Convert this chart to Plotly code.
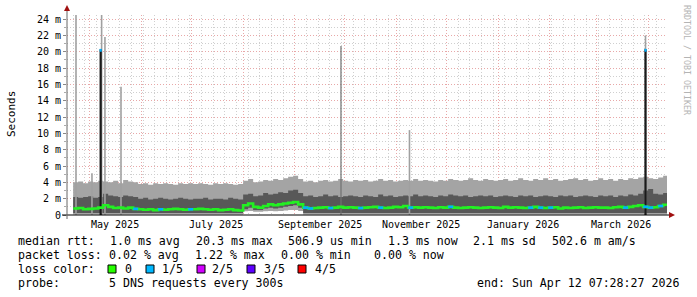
import plotly.graph_objects as go
import pandas as pd

# ---------------- data (values in milliseconds) ----------------
step_days = 3
dates = pd.date_range("2025-04-21", periods=119, freq="3D")

light_hi = [4.0, 4.1, 3.9, 4.1, 4.0, 4.2, 4.1, 4.0, 4.2, 3.9, 4.3, 4.1, 4.0,
            3.8, 3.9, 3.7, 3.9, 3.8, 3.9, 3.8, 3.7, 3.9, 3.8, 3.9, 3.8,
            3.9, 3.8, 3.7, 3.9, 3.8, 3.9, 3.8, 3.7, 3.8,
            4.2, 4.4, 4.0, 4.1, 4.3, 4.2, 4.4, 4.3, 4.5, 4.7, 4.8, 4.4,
            4.1, 4.2, 4.0, 4.2, 4.3, 4.1, 4.2, 4.4, 4.2, 4.1, 4.3, 4.2,
            4.3, 4.1, 4.2, 4.4, 4.2, 4.3, 4.1, 4.2, 4.3, 4.2, 4.4, 4.2,
            4.3, 4.2, 4.1, 4.3, 4.2, 4.4, 4.3, 4.2, 4.3, 4.5, 4.3, 4.2,
            4.4, 4.3, 4.2, 4.3, 4.4, 4.2, 4.3, 4.5, 4.3, 4.2, 4.4, 4.3,
            4.5, 4.3, 4.4, 4.2, 4.3, 4.4, 4.5, 4.3, 4.4, 4.2, 4.3, 4.5,
            4.3, 4.4, 4.2, 4.4, 4.3, 4.5, 4.4, 4.6, 4.7, 4.5, 4.4, 4.6, 4.8]

dark_hi = [2.2, 2.1, 2.2, 2.3, 2.1, 2.2, 2.6, 2.4, 2.3, 2.2, 2.4, 2.3, 2.2,
           2.0, 2.1, 1.9, 2.0, 2.1, 2.0, 1.9, 2.0, 2.1, 2.0, 1.9, 2.0,
           2.0, 2.1, 1.9, 2.0, 2.0, 1.9, 2.1, 2.0, 1.9,
           2.5, 2.6, 2.3, 2.4, 2.7, 2.5, 2.6, 2.8, 2.7, 3.0, 3.1, 2.7,
           2.3, 2.4, 2.2, 2.3, 2.5, 2.3, 2.4, 2.2, 2.3, 2.4, 2.3, 2.2,
           2.4, 2.3, 2.2, 2.5, 2.3, 2.4, 2.2, 2.3, 2.4, 2.3, 2.5, 2.3,
           2.4, 2.3, 2.2, 2.4, 2.3, 2.5, 2.4, 2.3, 2.4, 2.2, 2.3, 2.4,
           2.3, 2.4, 2.2, 2.3, 2.4, 2.3, 2.2, 2.4, 2.3, 2.4, 2.2, 2.3,
           2.4, 2.3, 2.2, 2.4, 2.3, 2.4, 2.2, 2.3, 2.4, 2.3, 2.2, 2.4,
           2.3, 2.4, 2.2, 2.4, 2.3, 2.5, 2.4, 2.6, 3.0, 3.2, 2.6, 2.5, 2.7]

median = [0.8, 0.85, 0.7, 0.75, 0.8, 0.9, 1.2, 1.0, 0.85, 0.9, 0.8, 0.9, 0.75,
          0.7, 0.65, 0.7, 0.6, 0.7, 0.65, 0.7, 0.75, 0.7, 0.65, 0.7, 0.7,
          0.75, 0.7, 0.65, 0.7, 0.6, 0.65, 0.7, 0.6, 0.55,
          1.2, 1.4, 1.0, 0.9, 1.1, 1.3, 1.2, 1.3, 1.4, 1.5, 1.6, 1.3,
          0.9, 0.8, 0.85, 0.9, 0.95, 0.85, 0.9, 1.0, 0.9, 0.95, 0.9, 0.85,
          0.9, 0.95, 1.0, 0.9, 0.85, 0.9, 1.0, 0.95, 1.1, 0.9, 0.95, 0.9,
          0.95, 0.9, 0.85, 0.95, 0.9, 1.0, 0.9, 0.85, 0.9, 0.95, 0.9, 0.85,
          0.9, 0.95, 0.9, 0.85, 1.0, 0.9, 0.95, 0.9, 0.85, 0.9, 1.0, 0.9,
          0.85, 0.9, 0.95, 0.8, 0.9, 0.85, 0.9, 0.95, 0.85, 0.9, 0.95, 0.9,
          0.9, 0.85, 0.95, 1.0, 0.9, 1.0, 1.1, 1.2, 1.0, 0.9, 0.95, 1.1, 1.25]

dark_lo = [0.25] * 34 + [0.7, 0.9, 0.6, 0.6, 0.8, 0.9, 0.8, 0.9, 1.0, 1.1, 1.2, 0.9] + [0.25] * 73
light_lo = [0.05] * 34 + [0.45, 0.5, 0.4, 0.4, 0.45, 0.5, 0.45, 0.5, 0.55, 0.6, 0.6, 0.5] + [0.05] * 73

loss_steps = [12, 17, 23, 46, 47, 51, 57, 61, 67, 75, 91, 93, 95, 110, 114, 115, 117]

spike_dates = ["2025-04-22 17:00", "2025-05-02 07:00", "2025-05-08 02:00", "2025-05-10 02:00",
               "2025-05-19 17:00", "2025-09-28 17:00", "2025-11-08 19:00", "2026-03-30 10:00",
               "2025-05-07 12:00", "2026-03-30 10:00", "2025-05-07 12:00", "2026-03-30 10:00"]
spike_lo = [0, 0, 0, 0, 0, 0, 0, 0, 0, 0, 20.0, 20.0]
spike_hi = [25.0, 5.1, 25.0, 21.8, 15.7, 20.7, 10.4, 22.0, 20.3, 20.3, 20.35, 20.35]
spike_kind = ["light", "light", "light", "light", "light", "mid", "light", "light",
              "black", "black", "loss", "loss"]

y_ticks = [0, 2, 4, 6, 8, 10, 12, 14, 16, 18, 20, 22, 24]
y_labels = ["0"] + [f"{v} m" for v in y_ticks[1:]]
month_labels = ["May 2025", "July 2025", "September 2025", "November 2025", "January 2026", "March 2026"]
month_label_dates = ["2025-05-16", "2025-07-16", "2025-09-16", "2025-11-16", "2026-01-16", "2026-03-16"]

row1 = ["median rtt:", "1.0 ms avg", "20.3 ms max", "506.9 us min", "1.3 ms now", "2.1 ms sd", "502.6 m am/s"]
row2 = ["packet loss:", "0.02 % avg", "1.22 % max", "0.00 % min", "0.00 % now"]
row3_head = "loss color:"
loss_names = ["0", "1/5", "2/5", "3/5", "4/5"]
loss_colors = ["#26ff00", "#00b8ff", "#d100ff", "#5e00ff", "#ff0000"]
row4 = ["probe:", "5 DNS requests every 300s"]
end_text = "end: Sun Apr 12 07:28:27 2026"
credit = "RRDTOOL / TOBI OETIKER"

# ---------------- figure ----------------
t0 = pd.Timestamp("2025-04-17 07:28:27")
t1 = pd.Timestamp("2026-04-12 07:28:27")
step = pd.Timedelta(days=step_days)
xs = list(dates) + [dates[-1] + step]


def ext(v):
    return list(v) + [v[-1]]


LIGHT = "#a4a4a4"
DARK = "#585858"
GREEN = "#22f022"
BLUE = "#00b0ff"

fig = go.Figure()
line0 = dict(width=0, shape="hv")
fig.add_trace(go.Scatter(x=xs, y=ext(light_lo), mode="lines", line=line0, hoverinfo="skip"))
fig.add_trace(go.Scatter(x=xs, y=ext(light_hi), mode="lines", line=line0, fill="tonexty",
                         fillcolor=LIGHT, hoverinfo="skip"))
fig.add_trace(go.Scatter(x=xs, y=ext(dark_lo), mode="lines", line=line0, hoverinfo="skip"))
fig.add_trace(go.Scatter(x=xs, y=ext(dark_hi), mode="lines", line=line0, fill="tonexty",
                         fillcolor=DARK, hoverinfo="skip"))

spike_style = {"light": ("#a0a0a0", 1.6), "mid": ("#707070", 1.2),
               "black": ("#1a1a1a", 2.2), "loss": (BLUE, 2.2)}
for d, lo, hi, k in zip(spike_dates, spike_lo, spike_hi, spike_kind):
    c, w = spike_style[k]
    fig.add_trace(go.Scatter(x=[d, d], y=[lo, hi], mode="lines", line=dict(color=c, width=w),
                             hoverinfo="skip"))

fig.add_trace(go.Scatter(x=xs, y=ext(median), mode="lines", line=dict(color=GREEN, width=2.6, shape="hv"),
                         hoverinfo="skip"))
bx, by = [], []
for i in loss_steps:
    bx += [dates[i], dates[i] + step, None]
    by += [median[i], median[i], None]
fig.add_trace(go.Scatter(x=bx, y=by, mode="lines", line=dict(color=BLUE, width=2.6), hoverinfo="skip"))

PL, PT, PW, PH = 67, 15, 600, 200
W, H = 697, 297


def px(x):
    return (x - PL) / PW


def py(y):
    return (PT + PH - y) / PH


MONO = "DejaVu Sans Mono"
fig.update_layout(
    width=W, height=H, margin=dict(l=PL, r=W - PL - PW, t=PT, b=H - PT - PH),
    paper_bgcolor="white", plot_bgcolor="white", showlegend=False,
    font=dict(family=MONO, color="#000000", size=10),
    xaxis=dict(range=[t0, t1], type="date", showticklabels=False, ticks="",
               tick0="2025-05-01", dtick="M1", showgrid=True, gridcolor="#e8a8a8",
               griddash="1px,2px", gridwidth=1, zeroline=False, showline=False,
               minor=dict(dtick=7 * 86400000, tick0="2025-04-21", showgrid=True,
                          gridcolor="#cfcfcf", griddash="1px,2px", gridwidth=1)),
    yaxis=dict(range=[0, 24.5], tickvals=y_ticks, ticktext=y_labels, ticks="outside", ticklen=3,
               tickcolor="#888888", showgrid=True, gridcolor="#e8a8a8", griddash="1px,2px",
               zeroline=False, showline=False, tickfont=dict(family=MONO, size=10),
               minor=dict(dtick=1, showgrid=True, gridcolor="#cfcfcf", griddash="1px,2px",
                          ticks="outside", ticklen=2, tickcolor="#aaaaaa")),
)

shapes = [
    dict(type="line", xref="paper", yref="paper", x0=px(62), x1=px(669), y0=py(215), y1=py(215),
         line=dict(color="#000000", width=1)),
    dict(type="line", xref="paper", yref="paper", x0=px(67), x1=px(67), y0=py(219), y1=py(10),
         line=dict(color="#666666", width=1)),
    dict(type="path", xref="paper", yref="paper",
         path=f"M {px(64)} {py(11)} L {px(70)} {py(11)} L {px(67)} {py(5)} Z",
         fillcolor="#a01010", line=dict(width=0)),
    dict(type="path", xref="paper", yref="paper",
         path=f"M {px(669)} {py(212)} L {px(669)} {py(218)} L {px(675)} {py(215)} Z",
         fillcolor="#a01010", line=dict(width=0)),
]

ann = []
for lab, d in zip(month_labels, month_label_dates):
    ann.append(dict(x=d, y=py(224), xref="x", yref="paper", text=lab, showarrow=False,
                    font=dict(family=MONO, size=10), xanchor="center", yanchor="middle"))
ann.append(dict(x=px(11), y=py(114), xref="paper", yref="paper", text="Seconds", textangle=-90,
                showarrow=False, font=dict(family=MONO, size=11), xanchor="center", yanchor="middle"))
ann.append(dict(x=px(687), y=py(60), xref="paper", yref="paper", text=credit, textangle=90,
                showarrow=False, font=dict(family=MONO, size=8.3, color="#b4b4b4"),
                xanchor="center", yanchor="middle"))

FS = 11.6


def text_at(t, x, y, anchor="left"):
    ann.append(dict(x=px(x), y=py(y), xref="paper", yref="paper", text=t, showarrow=False,
                    font=dict(family=MONO, size=FS, color="#000000"), xanchor=anchor,
                    yanchor="middle"))


for t, x in zip(row1, [16, 108, 194, 286, 386, 471, 550]):
    text_at(t, x, 241)
for t, x in zip(row2, [16, 107, 193, 279, 372]):
    text_at(t, x, 255)
text_at(row3_head, 16, 269)
for name, col, bxp, tx in zip(loss_names, loss_colors, [108, 146, 197, 247, 298], [123, 160, 210, 262, 313]):
    shapes.append(dict(type="rect", xref="paper", yref="paper", x0=px(bxp), x1=px(bxp + 8),
                       y0=py(273), y1=py(265), fillcolor=col, line=dict(color="#000000", width=1)))
    text_at(name, tx, 269)
for t, x in zip(row4, [16, 107]):
    text_at(t, x, 283)
text_at(end_text, 681, 283, anchor="right")

fig.update_layout(shapes=shapes, annotations=ann)
fig.write_html("out.html")
